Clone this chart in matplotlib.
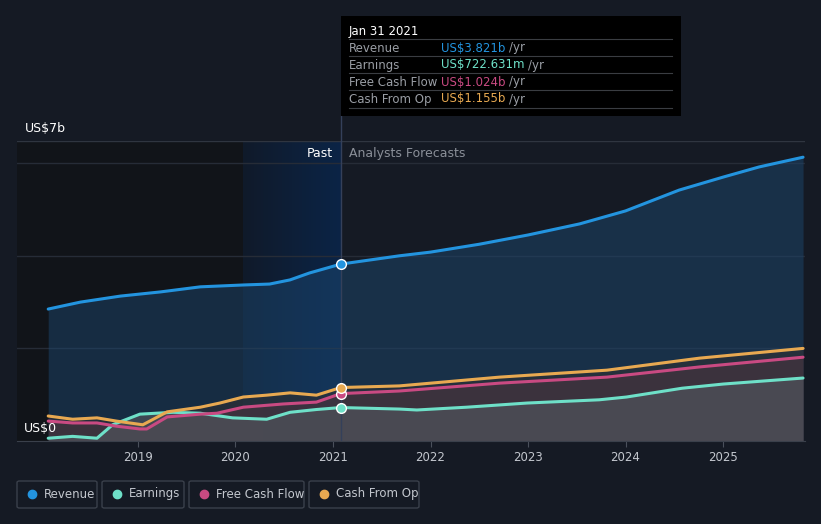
import numpy as np
import matplotlib.pyplot as plt
from matplotlib.patches import Rectangle, FancyBboxPatch
from matplotlib.lines import Line2D

# values in US$ billions, x in fractional years
rev_x = [2018.08, 2018.41, 2018.82, 2019.23, 2019.64, 2020.08, 2020.35, 2020.56, 2020.76, 2021.08,
         2021.68, 2022.0, 2022.5, 2023.0, 2023.53, 2024.0, 2024.55, 2025.0, 2025.37, 2025.82]
rev_y = [2.85, 3.0, 3.13, 3.22, 3.33, 3.37, 3.39, 3.48, 3.63, 3.821,
         4.0, 4.08, 4.25, 4.45, 4.69, 4.97, 5.42, 5.70, 5.92, 6.13]

earn_x = [2018.08, 2018.33, 2018.58, 2018.74, 2019.02, 2019.36, 2019.64, 2019.97, 2020.32, 2020.56,
          2020.83, 2021.08, 2021.68, 2021.86, 2022.37, 2022.99, 2023.73, 2024.01, 2024.58, 2025.0, 2025.82]
earn_y = [0.06, 0.10, 0.06, 0.35, 0.58, 0.62, 0.60, 0.50, 0.47, 0.62,
          0.68, 0.7226, 0.69, 0.67, 0.73, 0.82, 0.89, 0.95, 1.14, 1.23, 1.36]

fcf_x = [2018.08, 2018.33, 2018.58, 2018.78, 2019.02, 2019.09, 2019.30, 2019.64, 2019.81, 2020.08,
         2020.49, 2020.83, 2021.08, 2021.68, 2022.71, 2023.81, 2024.76, 2025.82]
fcf_y = [0.43, 0.39, 0.39, 0.32, 0.26, 0.26, 0.52, 0.58, 0.60, 0.73,
         0.80, 0.84, 1.024, 1.08, 1.25, 1.38, 1.60, 1.81]

cfo_x = [2018.08, 2018.33, 2018.58, 2018.78, 2019.05, 2019.30, 2019.64, 2019.84, 2020.08, 2020.32,
         2020.56, 2020.83, 2021.08, 2021.68, 2022.71, 2023.81, 2024.76, 2025.82]
cfo_y = [0.54, 0.47, 0.50, 0.43, 0.35, 0.63, 0.73, 0.82, 0.95, 0.99,
         1.04, 0.99, 1.155, 1.19, 1.38, 1.53, 1.79, 2.00]

year_ticks = [2019, 2020, 2021, 2022, 2023, 2024, 2025]
now_x = 2021.08
past_start = 2020.08

names = ["Revenue", "Earnings", "Free Cash Flow", "Cash From Op"]
colors = ["#2394df", "#6ee0c8", "#c94a82", "#e8a951"]
tip_vals = ["US$3.821b", "US$722.631m", "US$1.024b", "US$1.155b"]

bg = "#151a24"
fig = plt.figure(figsize=(8.21, 5.24), dpi=100, facecolor=bg)
ax = fig.add_axes([17/821, 83/524, 788/821, 300/524])
ax.set_facecolor(bg)
x0, x1 = 2017.76, 2025.84
ax.set_xlim(x0, x1)
ax.set_ylim(0, 6.48)

# background regions
ax.axvspan(x0, past_start, color="#111419", zorder=0, lw=0)
grad = np.linspace(0, 1, 100).reshape(1, -1)
ax.imshow(grad, extent=[past_start, now_x, 0, 6.48], aspect="auto",
          cmap=plt.matplotlib.colors.LinearSegmentedColormap.from_list("g", ["#101a2a", "#0b2446"]),
          zorder=0.5)

for g in [2, 4, 6]:
    ax.axhline(g, color="#262c37", lw=1, zorder=1)
ax.axhline(6.48, color="#2f3540", lw=1, zorder=1)

# fills
ax.fill_between(rev_x, rev_y, color="#1d4b75", alpha=0.45, lw=0, zorder=2)
ax.fill_between(cfo_x, cfo_y, color="#2c3036", alpha=0.7, lw=0, zorder=2)
ax.fill_between(fcf_x, fcf_y, color="#4a3540", alpha=0.6, lw=0, zorder=2)
ax.fill_between(earn_x, earn_y, color="#4f535b", alpha=0.7, lw=0, zorder=2)

series = [(rev_x, rev_y), (earn_x, earn_y), (fcf_x, fcf_y), (cfo_x, cfo_y)]
for (xs, ys), c in zip(series, colors):
    ax.plot(xs, ys, color=c, lw=2.2, zorder=4, solid_capstyle="round")
    yi = ys[xs.index(now_x)]
    ax.plot([now_x], [yi], "o", ms=7, mfc=c, mec="white", mew=1, zorder=6)

ax.axvline(now_x, color="#34405a", lw=1, zorder=3)
ax.plot([now_x, now_x], [6.48, 6.48 + 25/46.3], color="#34405a", lw=1, clip_on=False)

for s in ["top", "right", "left"]:
    ax.spines[s].set_visible(False)
ax.spines["bottom"].set_color("#3a404b")
ax.set_yticks([])
ax.set_xticks(year_ticks)
ax.set_xticklabels([str(y) for y in year_ticks], color="#c3c7ce", fontsize=8.5)
ax.tick_params(axis="x", colors="#4a505b", labelcolor="#c3c7ce", length=4)

ax.text(now_x - 0.08, 6.22, "Past", color="white", fontsize=9, ha="right", va="center")
ax.text(now_x + 0.08, 6.22, "Analysts Forecasts", color="#8a8f98", fontsize=9, ha="left", va="center")

fig.text(25/821, 1 - 128/524, "US$7b", color="white", fontsize=9, va="center")
fig.text(24/821, 1 - 429/524, "US$0", color="white", fontsize=9, va="center")

# tooltip
W, H = 821, 524
fig.patches.append(Rectangle((341/W, 1 - 116/H), 340/W, 100/H, transform=fig.transFigure,
                             facecolor="black", edgecolor="none", zorder=5))
fig.text(349/W, 1 - 31/H, "Jan 31 2021", color="white", fontsize=8.5, va="center", zorder=6)
rows_y = [48, 65, 82, 99]
for i, (n, c, v) in enumerate(zip(names, colors, tip_vals)):
    yy = rows_y[i]
    fig.add_artist(Line2D([349/W, 672/W], [1 - (yy - 9)/H] * 2, color="#3a3d42", lw=0.8, zorder=6))
    fig.text(349/W, 1 - yy/H, n, color="#9a9ea5", fontsize=8.5, va="center", zorder=6)
    t = fig.text(441/W, 1 - yy/H, v + " ", color=c, fontsize=8.5, va="center", zorder=6)
    fig.canvas.draw()
    bb = t.get_window_extent()
    fig.text(bb.x1 / W, 1 - yy/H, "/yr", color="#9a9ea5", fontsize=8.5, va="center", zorder=6)
fig.add_artist(Line2D([349/W, 672/W], [1 - 108/H] * 2, color="#3a3d42", lw=0.8, zorder=6))

# legend boxes
boxes = [(17, 97), (102, 184), (189, 304), (309, 419)]
for (bx0, bx1), n, c in zip(boxes, names, colors):
    fig.patches.append(FancyBboxPatch((bx0/W, 1 - 508/H), (bx1 - bx0)/W, 27/H,
                                      boxstyle="round,pad=0,rounding_size=0.003",
                                      transform=fig.transFigure, facecolor="none",
                                      edgecolor="#3a404b", lw=1))
    fig.add_artist(Line2D([(bx0 + 15)/W], [1 - 494/H], marker="o", ms=6, color=c, lw=0))
    fig.text((bx0 + 27)/W, 1 - 494/H, n, color="#c3c7ce", fontsize=8.5, va="center")

fig.savefig("out.png", dpi=100, facecolor=bg)
